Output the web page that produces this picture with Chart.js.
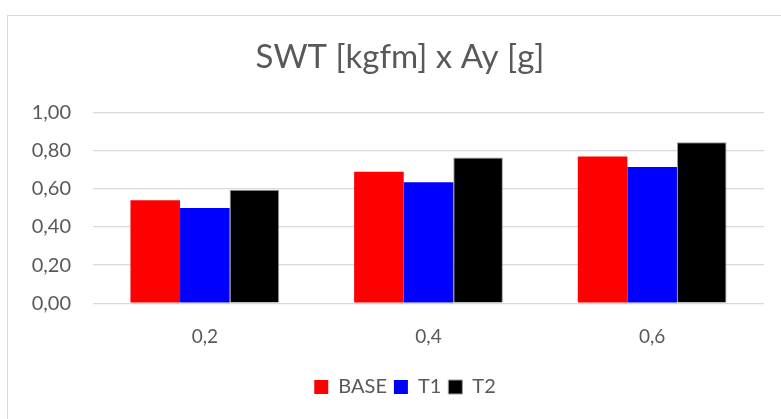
<!DOCTYPE html>
<html>
<head>
<meta charset="utf-8">
<script src="https://cdn.jsdelivr.net/npm/chart.js@4.4.1/dist/chart.umd.min.js"></script>
<style>
  html, body { margin: 0; padding: 0; background: #fff; }
  #wrap { position: relative; width: 781px; height: 419px; }
  #frame { position: absolute; left: 7px; top: 15px; width: 800px; height: 420px;
           border-left: 1px solid #d9d9d9; border-top: 1px solid #d9d9d9; }
  canvas { position: absolute; left: 0; top: 0; }
</style>
</head>
<body>
<div id="wrap">
  <div id="frame"></div>
  <canvas id="myChart" width="781" height="419"></canvas>
</div>
<script>
const categories = ['0,2', '0,4', '0,6'];
const base = [0.54, 0.69, 0.77];
const t1 = [0.50, 0.635, 0.715];
const t2 = [0.595, 0.765, 0.845];
const yTicks = [0, 0.2, 0.4, 0.6, 0.8, 1.0];

const textColor = '#595959';
const fontFamily = 'Lato, "Open Sans", sans-serif';

// title and legend are centred on the frame, not on the canvas
const recenter = {
    id: 'recenter',
    afterLayout: function(chart) {
        chart.titleBlock.left = 36;
        chart.titleBlock.width = chart.titleBlock.right - 36;
        chart.legend.left = 46;
        chart.legend.width = chart.legend.right - 46;
    }
};

document.addEventListener('DOMContentLoaded', function() {
    const ctx = document.getElementById('myChart');

    new Chart(ctx, {
        type: 'bar',
        data: {
            labels: categories,
            datasets: [{
                label: 'BASE',
                data: base,
                backgroundColor: '#ff0000',
                borderWidth: 0
            }, {
                label: 'T1',
                data: t1,
                backgroundColor: '#0000ff',
                borderWidth: 0
            }, {
                label: 'T2',
                data: t2,
                backgroundColor: '#000000',
                borderColor: '#9a9a9a',
                borderWidth: 1
            }]
        },
        plugins: [recenter],
        options: {
            responsive: false,
            animation: false,
            layout: {
                padding: { left: 0, right: 17, top: 0, bottom: 12 }
            },
            datasets: {
                bar: { barPercentage: 1.0, categoryPercentage: 0.665 }
            },
            plugins: {
                title: {
                    display: true,
                    text: 'SWT [kgfm] x Ay [g]',
                    color: textColor,
                    font: { family: fontFamily, size: 33, weight: 'normal' },
                    padding: { top: 38, bottom: 35 }
                },
                legend: {
                    position: 'bottom',
                    labels: {
                        color: textColor,
                        font: { family: fontFamily, size: 20 },
                        boxWidth: 14,
                        boxHeight: 14,
                        padding: 7
                    }
                },
                tooltip: { enabled: false }
            },
            scales: {
                x: {
                    grid: { display: false, drawTicks: false },
                    border: { display: false },
                    ticks: {
                        color: textColor,
                        font: { family: fontFamily, size: 19 },
                        padding: 22
                    }
                },
                y: {
                    min: 0,
                    max: 1,
                    afterBuildTicks: function(scale) {
                        scale.ticks = yTicks.map(v => ({ value: v }));
                    },
                    afterFit: function(scale) {
                        scale.width = 93;
                    },
                    grid: { color: '#d9d9d9', lineWidth: 1.3, drawTicks: false },
                    border: { display: false },
                    ticks: {
                        color: textColor,
                        font: { family: fontFamily, size: 20 },
                        padding: 22,
                        callback: function(value) {
                            return value.toFixed(2).replace('.', ',');
                        }
                    }
                }
            }
        }
    });
});
</script>
</body>
</html>
